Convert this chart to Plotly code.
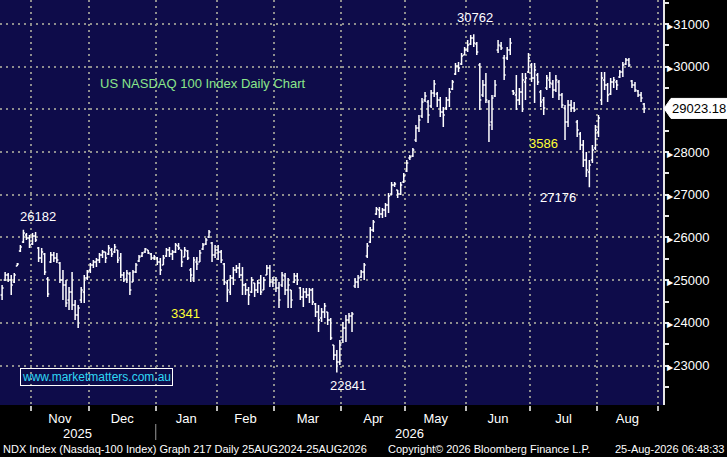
"""NDX daily OHLC chart, Bloomberg-style dark terminal look."""

import plotly.graph_objects as go

# trading sessions per month shown on the axis (Aug runs on to month end)
MONTHS = ["Oct", "Nov", "Dec", "Jan", "Feb", "Mar", "Apr", "May", "Jun", "Jul", "Aug"]
SESSIONS = [10, 19, 22, 20, 19, 22, 21, 20, 21, 22, 20]
YEARS = ["2025", "2026"]

OPEN = [
    24654, 25005, 25122, 25005, 24958, 25332, 25684, 25894, 26058, 25988,
    25847, 26035, 25754, 25520, 25613, 25028, 25426, 25590, 25520, 25403,
    25005, 24888, 24536, 24724, 24419, 24185, 24536, 24724, 25052, 25239,
    25356, 25426, 25473, 25590, 25660, 25613, 25707, 25660, 25707, 25520,
    25122, 25028, 25145, 24958, 25192, 25449, 25567, 25660, 25707, 25613,
    25520, 25520, 25426, 25356, 25567, 25707, 25613, 25660, 25801, 25707,
    25543, 25684, 25239, 25052, 25426, 25426, 25730, 25847, 26011, 25871,
    25590, 25707, 25660, 25379, 24935, 24724, 25052, 25239, 25286, 25122,
    24888, 24771, 24724, 24935, 24771, 24935, 24771, 25122, 25286, 24958,
    25005, 24818, 24888, 25098, 24771, 24771, 24958, 25098, 24818, 24607,
    24724, 24654, 24771, 24442, 24255, 24114, 24255, 24255, 24068, 23482,
    23248, 23084, 23599, 23880, 24068, 24161, 24864, 24958, 25075, 25192,
    25567, 25894, 26176, 26550, 26644, 26550, 26644, 26761, 27019, 27230,
    27112, 27019, 27300, 27557, 27862, 27909, 28283, 28564, 28845, 29220,
    29173, 29080, 29384, 29361, 29220, 28939, 29033, 29220, 29478, 29829,
    30016, 30063, 30274, 30391, 30532, 30672, 30532, 30040, 29337, 29571,
    29173, 28705, 29314, 30391, 30485, 30204, 30204, 30391, 29431, 29337,
    29220, 29407, 29642, 29876, 30040, 29735, 29806, 29407, 29220, 29501,
    29688, 29595, 29454, 29642, 29337, 29033, 28705, 29103, 29033, 28705,
    28424, 28166, 27815, 27534, 27815, 28096, 28470, 29220, 29688, 29571,
    29361, 29642, 29642, 29759, 29876, 30063, 30157, 29665, 29571, 29431,
    29337, 29126,
]
HIGH = [
    24888, 25192, 25169, 25122, 25169, 25403, 25824, 26182, 26105, 26058,
    26105, 26129, 25777, 25754, 25637, 25075, 25660, 25660, 25637, 25426,
    25239, 25005, 24841, 25192, 24536, 24419, 24841, 25122, 25239, 25403,
    25473, 25520, 25637, 25707, 25660, 25824, 25754, 25847, 25707, 25637,
    25192, 25239, 25192, 25239, 25403, 25590, 25660, 25754, 25707, 25637,
    25590, 25543, 25520, 25590, 25754, 25777, 25707, 25871, 25871, 25707,
    25777, 25707, 25286, 25543, 25543, 25707, 25871, 25988, 26176, 25894,
    25824, 25824, 25707, 25403, 25005, 25122, 25309, 25356, 25403, 25309,
    24935, 24841, 25075, 24935, 25005, 25122, 25075, 25356, 25356, 25075,
    25075, 24958, 25192, 25169, 25052, 24771, 25169, 25169, 24841, 24818,
    24818, 24818, 24818, 24466, 24419, 24349, 24466, 24255, 24114, 23482,
    23365, 23599, 24021, 24185, 24232, 24255, 25052, 25122, 25239, 25403,
    25871, 26246, 26410, 26714, 26714, 26691, 26808, 27042, 27300, 27300,
    27112, 27300, 27511, 27815, 27932, 28096, 28635, 28869, 29267, 29407,
    29220, 29454, 29688, 29407, 29290, 29056, 29290, 29501, 29688, 30087,
    30110, 30321, 30461, 30625, 30742, 30762, 30578, 30087, 29688, 29852,
    29220, 29337, 29688, 30625, 30578, 30274, 30461, 30672, 29454, 29806,
    29501, 29852, 29852, 30321, 30087, 30087, 29852, 29454, 29290, 29806,
    29876, 29688, 29806, 29688, 29384, 29103, 29220, 29220, 29173, 28752,
    28470, 28283, 28002, 27815, 28166, 28635, 28869, 29876, 29876, 29618,
    29735, 29759, 29688, 29923, 30110, 30204, 30204, 29688, 29642, 29454,
    29407, 29150,
]
LOW = [
    24536, 24981, 24958, 24654, 24935, 25332, 25660, 25871, 25941, 25754,
    25824, 25894, 25426, 25403, 25122, 24607, 25403, 25426, 25403, 24935,
    24536, 24372, 24302, 24302, 24068, 23880, 24466, 24466, 25005, 25169,
    25286, 25309, 25403, 25520, 25403, 25590, 25543, 25637, 25403, 25052,
    24958, 24935, 24654, 24958, 25169, 25426, 25543, 25637, 25613, 25473,
    25473, 25356, 25122, 25356, 25543, 25543, 25473, 25637, 25707, 25309,
    25543, 25473, 24958, 24958, 25239, 25426, 25707, 25824, 25988, 25426,
    25520, 25473, 25403, 24888, 24489, 24654, 24888, 25169, 25052, 24654,
    24654, 24419, 24701, 24607, 24701, 24654, 24771, 25122, 24841, 24841,
    24724, 24349, 24841, 24654, 24349, 24349, 24935, 24888, 24536, 24372,
    24584, 24466, 24419, 24138, 23786, 24021, 24114, 23950, 23599, 23131,
    22841, 23014, 23528, 23552, 23997, 23786, 24818, 24818, 25052, 25005,
    25520, 25871, 26129, 26527, 26456, 26456, 26480, 26574, 26995, 27182,
    26925, 26995, 27276, 27534, 27815, 27885, 28236, 28470, 28798, 29173,
    28681, 29033, 29290, 29056, 28822, 28588, 28986, 29056, 29454, 29806,
    29876, 30040, 30274, 30344, 30508, 30461, 30274, 28986, 29290, 29150,
    28236, 28517, 29290, 30321, 30391, 29688, 30157, 30274, 29337, 28986,
    29103, 28939, 29220, 29852, 29642, 29150, 29571, 29056, 28869, 29454,
    29501, 29267, 29407, 29220, 29033, 28283, 28588, 28939, 28939, 28353,
    28049, 27651, 27417, 27176, 27745, 28049, 28353, 29103, 29454, 29173,
    29337, 29501, 29454, 29735, 29759, 30040, 29993, 29501, 29407, 29290,
    29173, 28916,
]
CLOSE = [
    24818, 25122, 25005, 24888, 25122, 25379, 25777, 26105, 25988, 25824,
    26035, 25941, 25520, 25660, 25192, 24677, 25590, 25520, 25473, 25005,
    24888, 24466, 24724, 24419, 24185, 24349, 24771, 25052, 25192, 25356,
    25426, 25473, 25590, 25660, 25520, 25754, 25613, 25777, 25473, 25122,
    25005, 25169, 24771, 25192, 25356, 25543, 25637, 25730, 25637, 25520,
    25543, 25426, 25239, 25520, 25707, 25613, 25660, 25824, 25754, 25426,
    25707, 25520, 25122, 25473, 25379, 25637, 25824, 25941, 26129, 25590,
    25707, 25660, 25473, 24958, 24771, 25052, 25239, 25286, 25122, 24888,
    24771, 24654, 25005, 24771, 24935, 24724, 25005, 25286, 24958, 25005,
    24818, 24536, 25122, 24771, 24888, 24536, 25098, 25005, 24607, 24724,
    24654, 24771, 24489, 24255, 24068, 24255, 24396, 24068, 23646, 23248,
    23084, 23482, 23880, 24068, 24161, 24208, 24958, 25052, 25192, 25356,
    25801, 26176, 26363, 26667, 26550, 26644, 26761, 26972, 27230, 27253,
    27019, 27230, 27440, 27745, 27885, 28049, 28564, 28752, 29173, 29314,
    28869, 29384, 29595, 29220, 28939, 28869, 29220, 29407, 29642, 30016,
    29970, 30250, 30391, 30508, 30672, 30555, 30344, 29220, 29571, 29220,
    28635, 29267, 29571, 30508, 30438, 29806, 30391, 30555, 29384, 29220,
    29407, 29688, 29735, 30204, 29735, 29923, 29642, 29173, 29033, 29735,
    29618, 29454, 29688, 29337, 29103, 28705, 29103, 29033, 28986, 28517,
    28166, 27815, 27581, 27698, 28049, 28517, 28798, 29735, 29571, 29337,
    29642, 29688, 29571, 29876, 30040, 30157, 30040, 29571, 29454, 29337,
    29267, 29023.18,
]
LAST = CLOSE[-1]

Y_TICKS = [23000, 24000, 25000, 26000, 27000, 28000, 29000, 30000, 31000]
X_RANGE = [-0.69, 217.2]
Y_RANGE = [22077, 31562]

NAVY = "#0e0c4a"
GRID = "#8e8e8e"
FONT = "Liberation Sans, Arial, sans-serif"

# month boundaries (between sessions) and month centres
bounds, mids = [], []
start = 0
for n in SESSIONS:
    bounds.append(start + n - 0.5)
    mids.append(start + (n - 1) / 2)
    start += n

x = list(range(len(CLOSE)))

fig = go.Figure(go.Ohlc(
    x=x, open=OPEN, high=HIGH, low=LOW, close=CLOSE,
    increasing=dict(line=dict(color="white", width=1.5)),
    decreasing=dict(line=dict(color="white", width=1.5)),
    tickwidth=0.5, hoverinfo="skip",
))

# the 29000 label sits under the last-price tag, as on the terminal
ytext = ["" if v == 29000 else f'<span style="font-size:8px">▶</span>{v}' for v in Y_TICKS]

fig.update_layout(
    width=727, height=457,
    margin=dict(l=0, r=64, t=0, b=52),
    paper_bgcolor="black", plot_bgcolor=NAVY,
    showlegend=False,
    font=dict(family=FONT, color="white", size=12),
    xaxis=dict(
        range=X_RANGE, rangeslider=dict(visible=False),
        tickmode="array", tickvals=mids[1:], ticktext=MONTHS[1:],
        ticks="", showgrid=False, zeroline=False, showline=False,
        tickfont=dict(size=13, color="white"), ticklabelstandoff=4,
        minor=dict(tickmode="array", tickvals=bounds, ticks="outside",
                   ticklen=5, tickcolor="#bdbdbd", tickwidth=1.5,
                   showgrid=True, gridcolor=GRID, gridwidth=2, griddash="2px,4px"),
    ),
    yaxis=dict(
        side="right", range=Y_RANGE,
        tickmode="array", tickvals=Y_TICKS, ticktext=ytext,
        ticks="", showline=True, linecolor="#e6e6e6", linewidth=1.5,
        showgrid=True, gridcolor=GRID, gridwidth=2, griddash="2px,4px",
        zeroline=False, tickfont=dict(size=13, color="white"), ticklabelstandoff=0,
        minor=dict(dtick=500, tick0=22500, ticks="outside", ticklen=4,
                   tickcolor="#e6e6e6", tickwidth=1.5, showgrid=False),
    ),
)

# ---- labels on the chart ----------------------------------------------

def px_x(px):
    return px / 663


def px_y(py):
    return 1 - py / 405


def note(text, px, py, size=13, color="white", xanchor="center", **kw):
    fig.add_annotation(text=text, x=px_x(px), y=px_y(py), xref="paper", yref="paper",
                       xanchor=xanchor, yanchor="middle", showarrow=False,
                       font=dict(size=size, color=color), **kw)


note("26182", 38, 216)
note("22841", 348, 385)
note("30762", 475, 18)
note("27176", 558, 197)
note("3341", 185, 313, color="#ffff33")
note("3586", 543, 143, color="#ffff33")
note("US NASDAQ 100 Index Daily Chart", 203, 83, color="#8ae68a")
note("www.marketmatters.com.au", 20, 377, size=12, color="#2fd8f5", xanchor="left",
     bordercolor="white", borderwidth=1, borderpad=1)

# last price tag on the right axis
half = 10 * (Y_RANGE[1] - Y_RANGE[0]) / 405
fig.add_shape(
    type="path", xref="paper", yref="y", layer="above",
    path=(f"M {px_x(664)},{LAST} L {px_x(671)},{LAST + half} L {px_x(727)},{LAST + half} "
          f"L {px_x(727)},{LAST - half} L {px_x(671)},{LAST - half} Z"),
    fillcolor="white", line=dict(color="white", width=1),
)
fig.add_annotation(text=f"{LAST:.2f}", x=px_x(699), y=LAST, xref="paper", yref="y",
                   xanchor="center", yanchor="middle", showarrow=False,
                   font=dict(size=13, color="black"))

# ---- year row and footer ------------------------------------------------

jan = bounds[2]
for year, xc in zip(YEARS, [(X_RANGE[0] + jan) / 2, (jan + X_RANGE[1]) / 2]):
    fig.add_annotation(text=year, x=xc, y=px_y(433), xref="x", yref="paper",
                       xanchor="center", yanchor="middle", showarrow=False,
                       font=dict(size=13))
fig.add_shape(type="line", xref="x", yref="paper", x0=jan, x1=jan,
              y0=px_y(424), y1=px_y(440), line=dict(color="#9a9a9a", width=1))

note("NDX Index (Nasdaq-100 Index) Graph 217 Daily 25AUG2024-25AUG2026", 1, 449,
     size=11, xanchor="left")
note("Copyright© 2026 Bloomberg Finance L.P.", 386, 449, size=11, xanchor="left")
note("25-Aug-2026 06:48:33", 726, 449, size=11, xanchor="right")

fig.write_html("out.html", config={"displayModeBar": False},
               post_script="document.body.style.margin = '0';")
